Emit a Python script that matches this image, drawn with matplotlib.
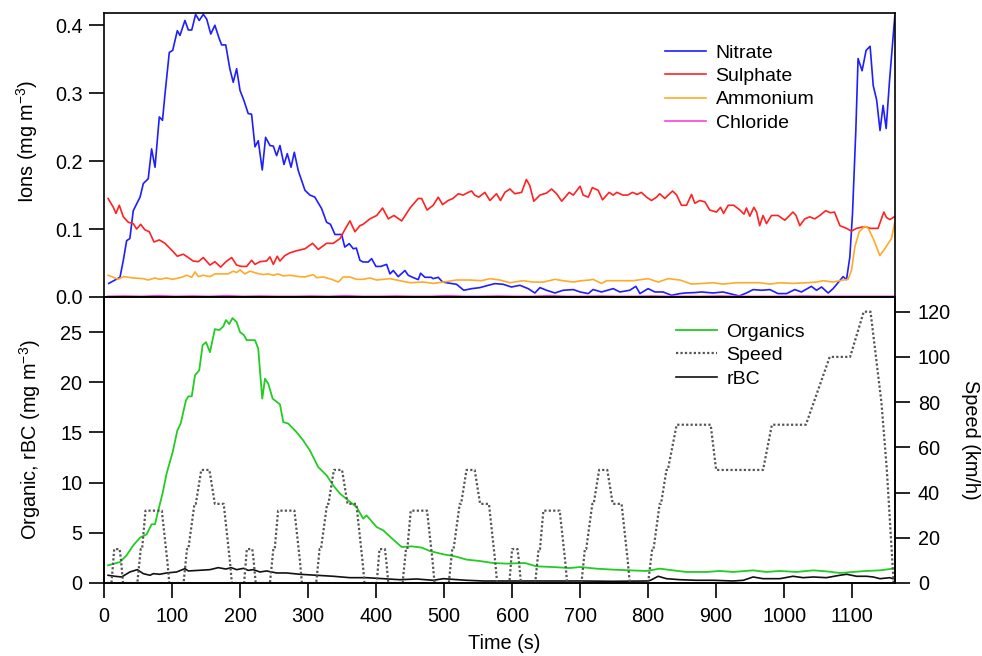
import matplotlib
matplotlib.use("Agg")
import matplotlib.pyplot as plt

plt.rcParams['font.family'] = ['Liberation Sans', 'DejaVu Sans']
plt.rcParams['mathtext.fontset'] = 'custom'
plt.rcParams['mathtext.rm'] = 'Liberation Sans'
plt.rcParams['mathtext.default'] = 'regular'

# ---------------- data (time in s, value) ----------------
nitrate = [(7,0.020),(23.5,0.029),(28.4,0.054),(33.3,0.083),(38,0.086),(43,0.127),(53,0.147),(57.8,0.167),
 (65,0.174),(70,0.218),(75,0.191),(81.3,0.265),(86,0.26),(89.7,0.299),(96,0.36),(101,0.363),(107.8,0.392),
 (111.7,0.385),(119,0.407),(124,0.393),(129,0.393),(134.7,0.416),(140,0.407),(146,0.416),(151,0.409),
 (157,0.387),(163,0.4),(169.5,0.38),(173,0.371),(179,0.371),(185,0.336),(190,0.316),(195,0.336),(200,0.304),
 (205.8,0.289),(212,0.27),(217,0.269),(222,0.221),(226.8,0.23),(232.7,0.187),(237.6,0.235),(244,0.223),
 (249,0.222),(253.8,0.208),(258.7,0.223),(264.6,0.195),(269.5,0.211),(275,0.191),(279.8,0.213),(285.6,0.186),
 (295.5,0.157),(302.8,0.15),(310,0.147),(320,0.13),(327.3,0.11),(333,0.107),(339.6,0.092),(349.4,0.092),
 (354,0.0735),(360.6,0.0785),(366.5,0.071),(371,0.072),(376.3,0.054),(381,0.0515),(388.5,0.0515),
 (393.5,0.0565),(399.8,0.045),(407,0.045),(415.5,0.048),(420.4,0.034),(425.3,0.039),(432.6,0.030),
 (442.5,0.039),(447.3,0.032),(453.7,0.029),(462,0.0256),(465.5,0.035),(471.8,0.029),(481,0.029),(484,0.027),
 (491.4,0.029),(497.8,0.022),(506,0.0206),(518.4,0.0187),(529,0.0099),(540.5,0.0123),(552.7,0.0138),
 (565,0.0172),(574.8,0.0197),(587,0.0187),(599,0.0147),(611.5,0.0172),(623.7,0.0123),(633.5,0.0059),
 (641,0.0138),(650.7,0.0099),(663,0.0059),(675,0.0099),(690,0.0109),(700,0.0074),(712,0.005),(719,0.011),
 (731.5,0.0074),(748.7,0.0123),(758.5,0.0074),(773,0.0099),(782,0.0157),(788,0.005),(800,0.0123),(810,0.0074),
 (822,0.0074),(834.5,0.0025),(846.7,0.005),(856,0.006),(868.7,0.0065),(878.5,0.0074),(895.6,0.0059),
 (910,0.0074),(920,0.005),(934,0.0015),(944.6,0.0059),(954.4,0.0109),(966.8,0.0099),(979,0.0109),(991,0.005),
 (1003.5,0.005),(1015.7,0.0109),(1025.5,0.0074),(1040,0.0157),(1047.6,0.0099),(1055,0.0147),(1064.7,0.0059),
 (1072,0.0123),(1086.7,0.030),(1091.7,0.0256),(1096.6,0.0588),(1100.5,0.1226),(1105.4,0.245),(1108.7,0.351),
 (1114.6,0.333),(1120.5,0.363),(1126.4,0.369),(1131,0.311),(1136,0.29),(1141,0.245),(1145.5,0.282),
 (1150,0.248),(1155,0.319),(1163,0.417)]

sulphate = [(6,0.145),(13.7,0.132),(17.6,0.123),(22.5,0.135),(28.4,0.118),(35.7,0.110),(43,0.108),(48,0.100),
 (54,0.107),(60,0.099),(66.6,0.096),(73.5,0.081),(81.3,0.084),(89.7,0.079),(99.5,0.069),(107.8,0.060),
 (116.6,0.063),(124,0.058),(131,0.053),(138.6,0.052),(146,0.058),(155.8,0.047),(163,0.052),(171.5,0.044),
 (179.3,0.052),(187.7,0.058),(195,0.047),(202.4,0.045),(209.7,0.045),(217,0.054),(222,0.048),(229.3,0.052),
 (239,0.053),(244,0.059),(249,0.048),(254.7,0.060),(258.7,0.053),(266,0.061),(273.4,0.065),(283,0.068),
 (295.5,0.071),(306.7,0.079),(315,0.070),(327.3,0.079),(337,0.079),(347,0.086),(354,0.099),(361.6,0.112),
 (369,0.096),(376.3,0.105),(381,0.107),(391,0.115),(401,0.120),(409.6,0.131),(418,0.115),(426.3,0.120),
 (437.6,0.112),(450,0.131),(462,0.145),(467,0.145),(475,0.128),(484,0.135),(491.4,0.147),(497.8,0.136),
 (506,0.142),(513,0.145),(521,0.152),(528,0.150),(535.5,0.154),(540.5,0.156),(545,0.150),(551,0.147),
 (560,0.154),(567.4,0.142),(577,0.152),(583,0.142),(589.4,0.154),(596.8,0.159),(604,0.152),(614,0.154),
 (621,0.173),(626,0.164),(632,0.141),(641,0.150),(650.7,0.153),(658,0.159),(665.4,0.152),(673,0.141),
 (684,0.154),(690,0.150),(700,0.163),(704.5,0.150),(712,0.147),(718,0.161),(726.6,0.157),(733,0.143),
 (742.7,0.154),(748.7,0.150),(754,0.154),(763,0.150),(770,0.150),(777,0.154),(784,0.151),(790,0.154),
 (797.7,0.147),(805,0.142),(812.5,0.147),(817,0.152),(824.6,0.145),(829.5,0.150),(836,0.156),(842,0.150),
 (849,0.135),(856.5,0.135),(863.8,0.151),(868.7,0.138),(876,0.142),(883.5,0.140),(890.6,0.128),(900.5,0.125),
 (906.5,0.132),(911,0.123),(917.7,0.135),(926,0.135),(935,0.128),(941,0.122),(944.6,0.131),(949.5,0.119),
 (955.5,0.132),(959.5,0.125),(964,0.105),(969,0.120),(974,0.108),(981.4,0.120),(991,0.120),(1001,0.113),
 (1006,0.118),(1013,0.125),(1017.5,0.120),(1023,0.105),(1030.4,0.115),(1037.6,0.118),(1045,0.115),
 (1052.5,0.120),(1061,0.127),(1068,0.124),(1074,0.125),(1082,0.105),(1091.7,0.101),(1099,0.097),
 (1106.4,0.101),(1115,0.103),(1121,0.103),(1127,0.101),(1138,0.101),(1146.6,0.125),(1150.5,0.117),
 (1155.4,0.114),(1162,0.118)]

ammonium = [(6,0.032),(13.7,0.029),(21,0.026),(28.4,0.030),(43,0.028),(57.8,0.027),(65,0.025),(75,0.028),
 (82,0.026),(92,0.028),(101,0.026),(114,0.029),(121.5,0.032),(129,0.029),(133.8,0.037),(138.6,0.030),
 (146,0.032),(155.8,0.030),(163,0.034),(175,0.034),(182.5,0.034),(190,0.038),(195,0.036),(200,0.040),
 (207,0.034),(214.6,0.038),(224.5,0.035),(234,0.033),(241.5,0.034),(249,0.032),(256,0.034),(263.6,0.031),
 (273.4,0.032),(287,0.030),(295.5,0.0295),(307.7,0.033),(312.6,0.0285),(322.4,0.0295),(334.7,0.026),
 (344.5,0.022),(351.8,0.0295),(361.6,0.0295),(371.4,0.026),(381,0.026),(391,0.028),(401,0.025),(410.5,0.026),
 (420.4,0.027),(435,0.024),(450,0.021),(469.6,0.022),(484,0.020),(499,0.022),(518.4,0.025),(538,0.025),
 (555,0.024),(567.4,0.027),(582,0.025),(596.8,0.021),(616,0.024),(631,0.022),(646,0.022),(663,0.026),
 (675,0.024),(690,0.022),(702,0.024),(714,0.025),(719,0.026),(731.5,0.020),(739,0.024),(758.5,0.024),
 (778,0.024),(800,0.027),(815,0.022),(829.5,0.027),(846.7,0.025),(863.8,0.019),(881,0.020),(895.6,0.021),
 (910,0.019),(930,0.021),(949.5,0.021),(964,0.021),(979,0.019),(993.6,0.021),(1013,0.020),(1033,0.021),
 (1047.6,0.022),(1057.5,0.024),(1072,0.022),(1086.7,0.025),(1094,0.026),(1099,0.039),(1104,0.074),
 (1110.4,0.096),(1118.6,0.104),(1123.7,0.101),(1131,0.086),(1140.7,0.061),(1148,0.071),(1157.8,0.086),
 (1162.7,0.110)]

chloride = [(5,0.001),(30,0.0015),(55,0.001),(80,0.002),(105,0.001),(130,0.0015),(155,0.001),(180,0.002),
 (205,0.001),(230,0.0015),(255,0.001),(280,0.001),(305,0.0015),(330,0.001),(355,0.002),(380,0.001),
 (405,0.001),(430,0.0015),(455,0.001),(480,0.001),(505,0.002),(530,0.001),(555,0.001),(580,0.0015),
 (605,0.001),(630,0.001),(655,0.002),(680,0.001),(705,0.001),(730,0.0015),(755,0.001),(780,0.001),
 (805,0.0015),(830,0.001),(855,0.001),(880,0.001),(905,0.0015),(930,0.001),(955,0.001),(980,0.001),
 (1005,0.001),(1030,0.0015),(1055,0.001),(1080,0.001),(1105,0.001),(1130,0.001),(1163,0.001)]

organics = [(6,1.76),(23.5,2.09),(33.3,2.76),(43,3.75),(53,4.52),(62.7,4.85),(70,5.85),(75,5.85),(79.8,7.24),
 (86,8.9),(92,10.9),(101,13.05),(107.8,15.2),(112.7,15.88),(120.5,18.2),(124,18.6),(129,18.6),(133.8,20.7),
 (140,21.2),(145,23.7),(150,24.0),(155.8,23.0),(163,25.3),(169.5,25.2),(175.4,25.57),(179.3,26.2),(184,25.8),
 (189,26.4),(195,26.0),(200,25.0),(205.8,24.7),(209.7,24.2),(222,24.2),(226.8,23.35),(229.3,21.2),
 (232.7,18.37),(236.7,20.36),(241.5,19.86),(248,18.37),(258.7,17.8),(263.6,16.04),(271,15.88),(283,15.04),
 (293,14.2),(302.8,13.2),(315,11.55),(327.3,10.73),(337,9.73),(347,8.9),(359,8.24),(371.4,7.57),(381,6.41),
 (386,6.74),(400.8,5.58),(410.5,5.25),(425.3,4.32),(437.6,3.59),(452.3,3.65),(467,3.53),(479,3.19),
 (498.8,2.86),(516,2.66),(533,2.33),(552.7,2.19),(572,1.99),(592,1.93),(619,1.99),(636,1.66),(660.5,1.59),
 (685,1.49),(700,1.59),(724,1.43),(748.7,1.33),(773,1.26),(797.7,1.2),(817,1.43),(836.6,1.26),(856.5,1.1),
 (886,1.1),(905.4,1.2),(925,1.1),(954.4,1.26),(974,1.1),(993.6,1.2),(1018,1.1),(1043,1.26),(1062,1.16),
 (1082,1.0),(1101,1.1),(1121,1.2),(1140.7,1.26),(1160,1.43)]

rbc = [(6,0.77),(16,0.67),(26,0.6),(38,1.1),(49,1.33),(57.8,0.93),(67.6,0.77),(72.5,0.93),(82,0.87),(92,1.0),
 (106.8,1.1),(119,1.43),(124,1.2),(139,1.26),(155.8,1.33),(168,1.53),(179.3,1.39),(187,1.53),(195,1.33),
 (205,1.46),(212,1.26),(219.4,1.33),(229.3,1.1),(239,1.2),(253.8,1.0),(268.5,1.0),(288,0.87),(312.6,0.77),
 (337,0.67),(361.6,0.53),(386,0.53),(410.5,0.43),(435,0.33),(459.6,0.4),(484,0.27),(499,0.43),(533,0.27),
 (558,0.2),(582,0.2),(601.7,0.2),(650.7,0.2),(700,0.2),(748.7,0.17),(797.7,0.2),(803.5,0.27),(814.8,0.67),
 (827,0.43),(846.7,0.33),(871,0.27),(895.6,0.27),(925,0.2),(940,0.27),(954.4,0.6),(969,0.43),(993.6,0.43),
 (1013,0.67),(1028,0.53),(1043,0.6),(1062,0.53),(1082,0.77),(1092,0.87),(1106.4,0.67),(1121,0.67),
 (1131,0.6),(1141,0.43),(1155.4,0.53),(1160,0.43)]

speed = [(5,0),(11,0),(15,15),(23,15),(25,10),(28,0),(49,0),(54,15),(56,15),(61,32),(85,32),(93,10),(96,0),
 (117,0),(122,15),(124,15),(133,35),(135,35),(143,50),(155,50),(163,35),(176,35),(185,10),(188,0),
 (206,0),(210,15),(218,15),(220,10),(223,0),(244,0),(249,15),(251,15),(256,32),(280,32),(288,10),(291,0),
 (312,0),(317,15),(319,15),(328,35),(330,35),(338,50),(350,50),(358,35),(371,35),(380,10),(383,0),
 (401,0),(405,15),(413,15),(415,10),(418,0),(439,0),(444,15),(446,15),(451,32),(475,32),(483,10),(486,0),
 (507,0),(512,15),(514,15),(523,35),(525,35),(533,50),(545,50),(553,35),(566,35),(575,10),(578,0),
 (596,0),(600,15),(608,15),(610,10),(613,0),(634,0),(639,15),(641,15),(646,32),(670,32),(678,10),(681,0),
 (702,0),(707,15),(709,15),(718,35),(720,35),(728,50),(740,50),(748,35),(761,35),(770,10),(773,0),
 (800,0),(806,15),(808,15),(817,35),(819,35),(827,50),(829,50),(842,70),(892,70),(900,50),(969,50),
 (982,70),(1032,70),(1067,100),(1097,100),(1117,120),(1127,120),(1143,80),(1151,50),(1161,0),(1165,0)]

ion_ticks = [0.0, 0.1, 0.2, 0.3, 0.4]
org_ticks = [0, 5, 10, 15, 20, 25]
speed_ticks = [0, 20, 40, 60, 80, 100, 120]
time_ticks = list(range(0, 1200, 100))


def xy(pts):
    return [p[0] for p in pts], [p[1] for p in pts]


FS = 14.3
LFS = 14
fig = plt.figure(figsize=(9.82, 6.56), dpi=100)
L, W = 104 / 982, 791 / 982
ax1 = fig.add_axes([L, 1 - 297 / 656, W, 284 / 656])
ax2 = fig.add_axes([L, 1 - 583 / 656, W, 286 / 656])
ax2b = ax2.twinx()

c_no3, c_so4, c_nh4, c_chl = '#1e1eff', '#ff2222', '#ffaa2a', '#ff40d8'
c_org, c_rbc, c_spd = '#22cc22', '#111111', '#555555'

# top panel
ax1.plot(*xy(nitrate), color=c_no3, lw=1.2, label='Nitrate')
ax1.plot(*xy(sulphate), color=c_so4, lw=1.2, label='Sulphate')
ax1.plot(*xy(ammonium), color=c_nh4, lw=1.2, label='Ammonium')
ax1.plot(*xy(chloride), color=c_chl, lw=1.2, label='Chloride')
ax1.set_xlim(0, 1163)
ax1.set_ylim(0, 0.418)
ax1.set_yticks(ion_ticks)
ax1.set_yticklabels([f'{v:.1f}' for v in ion_ticks])
ax1.tick_params(axis='x', bottom=False, labelbottom=False)
ax1.tick_params(axis='y', direction='out', length=10.5, width=1.2, pad=5, labelsize=FS)
ax1.set_ylabel('Ions (mg m$^{-3}$)', fontsize=FS)
ax1.yaxis.set_label_coords(-0.0973, 0.55)
ax1.legend(loc='upper left', bbox_to_anchor=(665 / 982, 1 - 44 / 656), bbox_transform=fig.transFigure,
           frameon=False, fontsize=LFS, borderpad=0, borderaxespad=0, handlelength=2.1,
           handletextpad=0.5, labelspacing=0.3)

# bottom panel
l_org, = ax2.plot(*xy(organics), color=c_org, lw=1.3, label='Organics')
l_rbc, = ax2.plot(*xy(rbc), color=c_rbc, lw=1.2, label='rBC')
l_spd, = ax2b.plot(*xy(speed), color=c_spd, lw=1.6, linestyle=(0, (1, 1)), label='Speed')
ax2.set_xlim(0, 1163)
ax2.set_ylim(0, 28.5)
ax2b.set_ylim(0, 126.5)
ax2.set_xticks(time_ticks)
ax2.set_yticks(org_ticks)
ax2b.set_yticks(speed_ticks)
ax2.tick_params(axis='x', direction='out', length=10.5, width=1.2, pad=7, labelsize=FS)
ax2.tick_params(axis='y', direction='out', length=10.5, width=1.2, pad=5, labelsize=FS)
ax2b.tick_params(axis='y', direction='out', length=10.5, width=1.2, pad=6, labelsize=FS)
ax2.set_xlabel('Time (s)', fontsize=FS, va='center')
ax2.xaxis.set_label_coords(0.506, -0.21)
ax2.set_ylabel('Organic, rBC (mg m$^{-3}$)', fontsize=FS)
ax2.yaxis.set_label_coords(-0.0935, 0.5)
ax2b.set_ylabel('Speed (km/h)', fontsize=FS, rotation=270)
ax2b.yaxis.set_label_coords(1.095, 0.5)
for a in (ax1, ax2, ax2b):
    a.yaxis.label.set_va('center')
    a.yaxis.label.set_ha('center')
ax2b.legend([l_org, l_spd, l_rbc], ['Organics', 'Speed', 'rBC'], loc='upper left',
            bbox_to_anchor=(676 / 982, 1 - 323 / 656), bbox_transform=fig.transFigure,
            frameon=False, fontsize=LFS, borderpad=0, borderaxespad=0, handlelength=2.1,
            handletextpad=0.5, labelspacing=0.3)

for a in (ax1, ax2, ax2b):
    for s in a.spines.values():
        s.set_linewidth(1.2)

fig.savefig('out.png', dpi=100)
